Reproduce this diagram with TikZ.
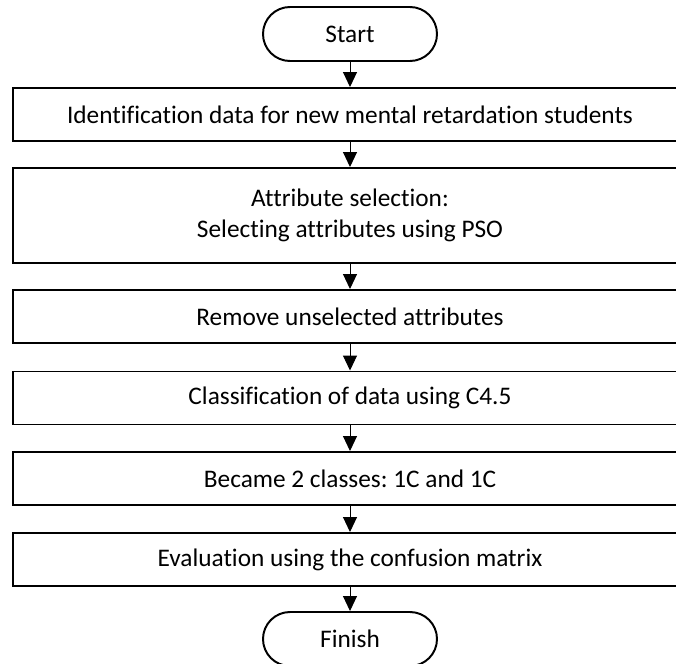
\documentclass[tikz,border=0pt]{standalone}
\usepackage{fontspec}
\setmainfont[Ligatures=NoCommon]{Carlito}
\usetikzlibrary{arrows.meta,positioning}
\frenchspacing

\begin{document}
\begin{tikzpicture}[
  font=\fontsize{18}{22.5}\selectfont,
  box/.style  = {draw=black, line width=1.4pt, align=center, inner sep=0pt,
                 minimum width=16.86cm, minimum height=1.325cm},
  term/.style = {draw=black, line width=1.4pt, rounded corners=0.675cm, inner sep=0pt,
                 minimum width=4.35cm, minimum height=1.35cm},
  ar/.style   = {-{Triangle[length=0.375cm,width=0.35cm]}, line width=0.7pt, draw=black},
]
\useasboundingbox (0,0) rectangle (16.9,-16.575);

% ---- terminals and steps ---------------------------------------------------
\node[term] (start)  at (8.75,-0.85)     {Start};
\node[box]  (ident)  at (8.75,-2.8625)   {Identification data for new mental retardation students};
\node[box, minimum height=2.375cm] (attsel) at (8.75,-5.3875)
  {Attribute selection:\\ Selecting attributes using PSO};
\node[box]  (remove) at (8.75,-7.9125)   {Remove unselected attributes};
\node[box]  (classf) at (8.75,-9.95)     {Classification of data using C4.5};
\node[box]  (became) at (8.75,-11.9625)  {Became 2 classes: 1C and 1C};
\node[box]  (eval)   at (8.75,-13.9875)  {Evaluation using the confusion matrix};
\node[term] (finish) at (8.75,-15.975)   {Finish};

% ---- flow ------------------------------------------------------------------
\draw[ar] (start)  -- (ident);
\draw[ar] (ident)  -- (attsel);
\draw[ar] (attsel) -- (remove);
\draw[ar] (remove) -- (classf);
\draw[ar] (classf) -- (became);
\draw[ar] (became) -- (eval);
\draw[ar] (eval)   -- (finish);

\end{tikzpicture}
\end{document}
